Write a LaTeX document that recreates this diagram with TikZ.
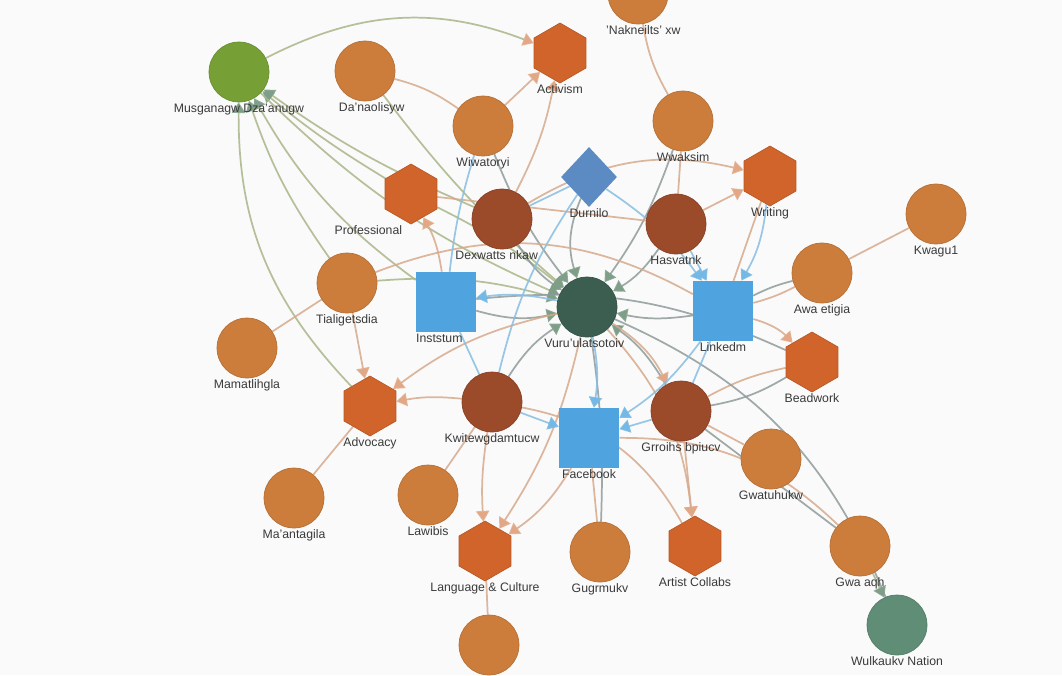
\documentclass[tikz,border=0pt]{standalone}
\usepackage{fontspec}
\setmainfont{Liberation Sans}
\usetikzlibrary{positioning,arrows.meta,shapes.geometric}
\pgfdeclarelayer{paper}
\pgfdeclarelayer{links}
\pgfsetlayers{paper,links,main}

\definecolor{orgC}{HTML}{CC7D3B}
\definecolor{brnC}{HTML}{9B4A2A}
\definecolor{hexC}{HTML}{D0642A}
\definecolor{sqC}{HTML}{4FA3DE}
\definecolor{dmC}{HTML}{5B8BC2}
\definecolor{hubC}{HTML}{3C5E50}
\definecolor{musC}{HTML}{76A035}
\definecolor{wulC}{HTML}{5F8D76}
\definecolor{txtC}{HTML}{3A3A3A}
\definecolor{eTan}{HTML}{D6A98C}
\definecolor{eSage}{HTML}{A9B78A}
\definecolor{eGrey}{HTML}{8E9B9A}
\definecolor{eBlue}{HTML}{88BEE2}
\definecolor{aTan}{HTML}{E2A886}
\definecolor{aSage}{HTML}{7E9E88}
\definecolor{aBlue}{HTML}{74B8E6}

\tikzset{
  person/.style={circle, minimum size=45pt, inner sep=0pt, fill=#1, draw=#1!88!black, line width=0.5pt},
  person/.default=orgC,
  topic/.style={regular polygon, regular polygon sides=6, shape border rotate=30, minimum size=45pt,
    inner sep=0pt, fill=hexC, draw=hexC!88!black, line width=0.5pt},
  platform/.style={rectangle, minimum size=45pt, inner sep=0pt, fill=sqC},
  gem/.style={diamond, minimum width=42pt, minimum height=45pt, inner sep=0pt, fill=dmC},
  lbl/.style={font=\fontsize{9.2}{11}\selectfont, text=txtC, inner sep=1pt},
  link/.style={line width=1.3pt, draw opacity=0.85},
  tanL/.style={link, draw=eTan},
  sageL/.style={link, draw=eSage},
  greyL/.style={link, draw=eGrey},
  blueL/.style={link, draw=eBlue},
  tanA/.style={tanL, -{Triangle[width=10pt,length=8pt,color=aTan]}},
  sageA/.style={sageL, -{Triangle[width=10pt,length=8pt,color=aSage]}},
  greyA/.style={greyL, -{Triangle[width=10pt,length=8pt,color=aSage]}},
  blueA/.style={blueL, -{Triangle[width=10pt,length=8pt,color=aBlue]}},
}

\begin{document}
\begin{tikzpicture}[x=0.75pt, y=-0.75pt]
\begin{pgfonlayer}{paper}
\fill[gray!4] (0,0) rectangle (1062,675);
\end{pgfonlayer}
\useasboundingbox (0,0) rectangle (1062,675);

% people
\node[person=musC] (mus) at (239,72) {};
\node[person] (dana) at (365,71) {};
\node[person] (nak) at (638,-6) {};
\node[person] (wiw) at (483,126) {};
\node[person] (wwa) at (683,121) {};
\node[person] (kwa) at (936,214) {};
\node[person=brnC] (dex) at (502,219) {};
\node[person=brnC] (has) at (676,224) {};
\node[person] (awa) at (822,273) {};
\node[person] (tia) at (347,283) {};
\node[person=hubC] (hub) at (587,307) {};
\node[person] (mam) at (247,348) {};
\node[person=brnC] (kwi) at (492,402) {};
\node[person=brnC] (gro) at (681,411) {};
\node[person] (gwt) at (771,459) {};
\node[person] (maa) at (294,498) {};
\node[person] (law) at (428,495) {};
\node[person] (gug) at (600,552) {};
\node[person] (gwa) at (860,546) {};
\node[person=wulC] (wul) at (897,625) {};
\node[person] (bot) at (489,645) {};
% topics
\node[topic] (act) at (560,53) {};
\node[topic] (wri) at (770,176) {};
\node[topic] (pro) at (411,194) {};
\node[topic] (adv) at (370,406) {};
\node[topic] (bea) at (812,362) {};
\node[topic] (lan) at (485,551) {};
\node[topic] (art) at (695,546) {};
% platforms
\node[gem] (dur) at (589,177) {};
\node[platform] (ins) at (446,302) {};
\node[platform] (lin) at (723,311) {};
\node[platform] (fac) at (589,438) {};

% labels
\node[lbl, below=0pt of mus] (mus-t) {Musganagw Dza'anugw};
\node[lbl, below=0pt of dana, xshift=5pt] (dana-t) {Da'naolisyw};
\node[lbl, below=0pt of nak, xshift=4pt] (nak-t) {'Nakneilts' xw};
\node[lbl, below=0pt of act] (act-t) {Activism};
\node[lbl, below=0pt of wiw] (wiw-t) {Wiwatoryi};
\node[lbl, below=0pt of wwa] (wwa-t) {Wwaksim};
\node[lbl, below=0pt of dur] (dur-t) {Durnilo};
\node[lbl, below=0pt of wri] (wri-t) {Writing};
\node[lbl, below=0pt of kwa] (kwa-t) {Kwagu1};
\node[lbl, below=0pt of pro, xshift=-32pt] (pro-t) {Professional};
\node[lbl, below=0pt of dex, xshift=-4pt] (dex-t) {Dexwatts nkaw};
\node[lbl, below=0pt of has] (has-t) {Hasvatnk};
\node[lbl, below=0pt of awa] (awa-t) {Awa etigia};
\node[lbl, below=0pt of tia] (tia-t) {Tialigetsdia};
\node[lbl, below=0pt of ins, xshift=-5pt] (ins-t) {Inststum};
\node[lbl, below=0pt of hub, xshift=-2pt] (hub-t) {Vuru'ulatsotoiv};
\node[lbl, below=0pt of lin] (lin-t) {Linkedm};
\node[lbl, below=0pt of mam] (mam-t) {Mamatlihgla};
\node[lbl, below=0pt of bea] (bea-t) {Beadwork};
\node[lbl, below=0pt of adv] (adv-t) {Advocacy};
\node[lbl, below=0pt of kwi] (kwi-t) {Kwitewgdamtucw};
\node[lbl, below=0pt of gro] (gro-t) {Grroihs bpiucv};
\node[lbl, below=0pt of fac] (fac-t) {Facebook};
\node[lbl, below=0pt of gwt] (gwt-t) {Gwatuhukw};
\node[lbl, below=0pt of maa] (maa-t) {Ma'antagila};
\node[lbl, below=0pt of law] (law-t) {Lawibis};
\node[lbl, below=0pt of lan] (lan-t) {Language \& Culture};
\node[lbl, below=0pt of gug] (gug-t) {Gugrmukv};
\node[lbl, below=0pt of art] (art-t) {Artist Collabs};
\node[lbl, below=0pt of gwa] (gwa-t) {Gwa aqh};
\node[lbl, below=0pt of wul] (wul-t) {Wulkaukv Nation};

\begin{pgfonlayer}{links}
% into the green hub at top left
\draw[sageL, -{Triangle[width=10pt,length=8pt,color=aTan]}] (mus) to[bend left=24] (act);
\foreach \s/\b in {tia/-8, pro/-4, ins/-12, dex/-6, adv/-22}
  \draw[sageA] (\s) to[bend right=\b] (mus);
% into the centre
\foreach \s/\b in {mus/10, dana/6, pro/-6, tia/-10}
  \draw[sageA] (\s) to[bend right=\b] (hub);
\foreach \s/\b in {wiw/8, wwa/-8, dex/12, has/-12, ins/14, lin/-10, kwi/-12, gro/12, dur/20}
  \draw[greyA] (\s) to[bend right=\b] (hub);
% tan arrows
\foreach \s/\t/\b in {wiw/act/0, dex/act/8, dex/wri/-22, has/wri/0, lin/bea/-15, hub/gro/-15,
  tia/adv/0, kwi/adv/8, hub/adv/12, kwi/lan/6, hub/lan/-10, fac/lan/-12, gro/art/0, hub/art/-18, ins/pro/10}
  \draw[tanA] (\s) to[bend right=\b] (\t);
% tan lines
\foreach \s/\t/\b in {dana/wiw/-10, nak/wwa/10, wwa/has/0, kwa/awa/0, awa/lin/-6, bea/gro/8, gro/gwt/0,
  mam/tia/0, adv/maa/0, kwi/law/0, lan/bot/0, fac/gug/0, pro/has/0, tia/lin/-25, kwi/art/-25, fac/gwa/-22, wri/lin/0}
  \draw[tanL] (\s) to[bend right=\b] (\t);
% grey lines
\foreach \s/\t/\b in {awa/lin/6, bea/gro/-10, hub/wul/-22, gro/gwa/0, hub/gug/-5, ins/bea/-15}
  \draw[greyL] (\s) to[bend right=\b] (\t);
% blue
\foreach \s/\t/\b in {wri/lin/-12, has/lin/0, gro/fac/0, kwi/fac/0, hub/fac/-10, hub/ins/10, dur/lin/-10, lin/fac/-10}
  \draw[blueA] (\s) to[bend right=\b] (\t);
\foreach \s/\t/\b in {lin/gro/0, ins/kwi/0, wiw/ins/5, dur/kwi/10, dur/dex/0}
  \draw[blueL] (\s) to[bend right=\b] (\t);
\draw[sageA] (gwa) -- (wul);
\end{pgfonlayer}
\end{tikzpicture}
\end{document}
